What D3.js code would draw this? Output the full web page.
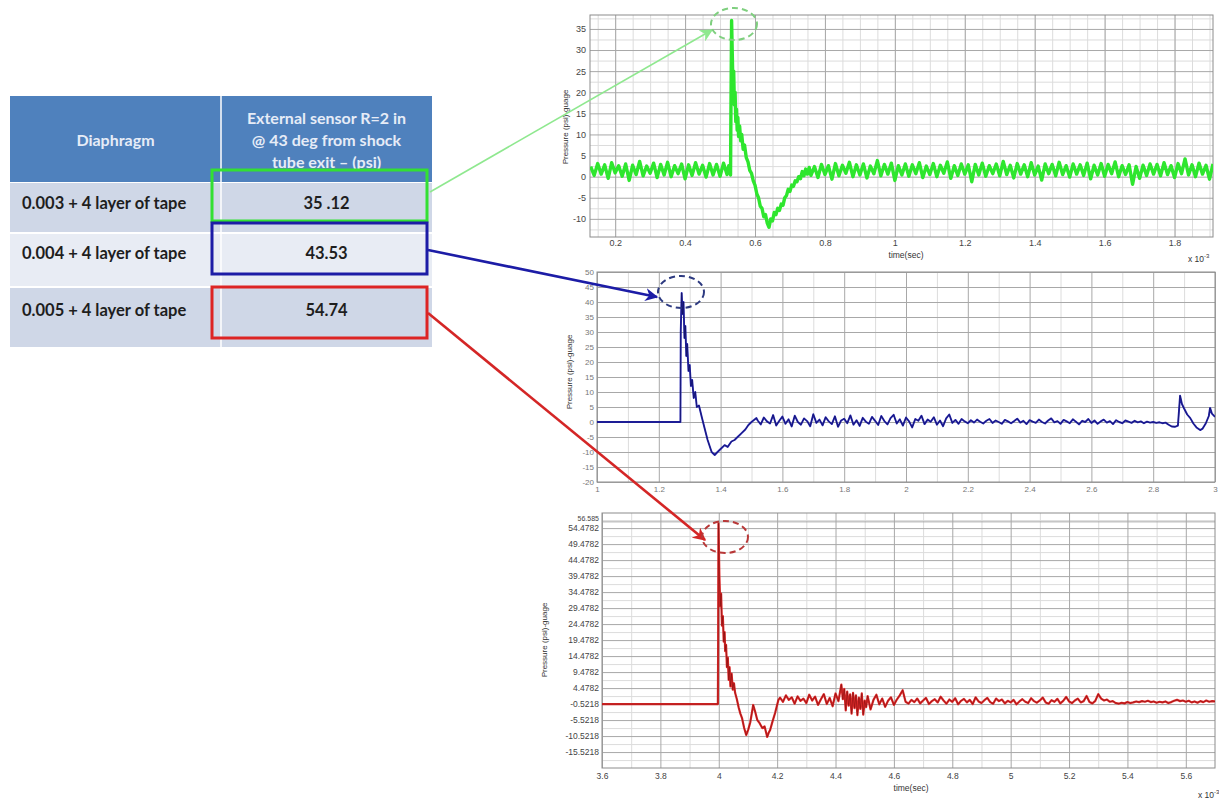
<!DOCTYPE html>
<html>
<head>
<meta charset="utf-8">
<script src="https://cdn.jsdelivr.net/npm/d3@7"></script>
<style>
  body { margin: 0; background: #fff; }
  svg { display: block; font-family: "Liberation Sans", Arial, sans-serif; }
</style>
</head>
<body>
<svg id="fig" width="1219" height="800"></svg>
<script>
// ---- table ----
const diaphragms = ["0.003 + 4 layer of tape", "0.004 + 4 layer of tape", "0.005 + 4 layer of tape"];
const peakPsi = ["35 .12", "43.53", "54.74"];
const headerLines = ["External sensor R=2 in", "@ 43 deg from shock", "tube exit \u2013 (psi)"];
const traceColors = ["#33e033", "#1c1ca6", "#dd2424"];

// ---- traces: [time (x 10^-3 s), pressure (psi)] ----
const greenTrace = [
  [0.13,2.4],[0.14,0.3],[0.15,3.1],[0.16,0.6],[0.17,2.8],[0.18,-0.4],[0.19,3.3],[0.20,0.9],[0.21,2.6],[0.22,0.1],
  [0.23,3.0],[0.24,-0.9],[0.25,2.7],[0.26,0.5],[0.27,3.6],[0.28,0.2],[0.29,2.5],[0.30,0.8],[0.31,3.2],[0.32,-0.2],
  [0.33,2.9],[0.34,0.4],[0.35,3.4],[0.36,0.0],[0.37,2.6],[0.38,0.7],[0.39,3.0],[0.40,-0.5],[0.41,2.8],[0.42,0.3],
  [0.43,3.3],[0.44,0.6],[0.45,2.7],[0.46,-0.1],[0.47,3.1],[0.48,0.4],[0.49,2.9],[0.50,0.1],[0.51,3.2],[0.52,0.5],
  [0.525,2.6],[0.530,0.4],[0.531,14],[0.533,37],[0.535,29],[0.537,21],[0.539,25],[0.541,17],[0.543,20],[0.545,13],
  [0.547,16],[0.549,11],[0.551,14],[0.553,9.5],[0.556,12],[0.559,8.5],[0.562,10],[0.566,6.5],[0.570,7.5],[0.575,4.5],
  [0.580,3.5],[0.585,1.5],[0.590,0.8],[0.595,-1],[0.600,-2],[0.605,-4],[0.610,-5],[0.615,-7],[0.620,-7.5],[0.625,-9.5],
  [0.630,-9],[0.635,-11],[0.640,-12],[0.645,-10],[0.650,-10.5],[0.655,-8.5],[0.660,-9],[0.665,-7.5],[0.670,-8],[0.675,-6.5],
  [0.680,-6.8],[0.685,-5],[0.690,-4.5],[0.695,-3],[0.700,-3.5],[0.705,-2],[0.710,-2.3],[0.715,-1],[0.720,-1.2],[0.725,0],
  [0.730,-0.5],[0.735,1.2],[0.740,0.2],[0.745,1.8],[0.750,0.6],[0.755,2.2],
  [0.76,0.3],[0.77,2.4],[0.78,-0.2],[0.79,2.9],[0.80,0.5],[0.81,2.6],[0.82,-0.6],[0.83,3.1],[0.84,0.2],[0.85,2.7],
  [0.86,0.8],[0.87,3.4],[0.88,0.0],[0.89,2.8],[0.90,0.4],[0.91,3.0],[0.92,-0.3],[0.93,2.5],[0.94,0.7],[0.95,3.8],
  [0.96,0.2],[0.97,2.9],[0.98,0.6],[0.99,3.2],[1.00,-0.9],[1.01,2.6],[1.02,0.4],[1.03,3.0],[1.04,0.1],[1.05,2.8],
  [1.06,0.7],[1.07,3.3],[1.08,-0.2],[1.09,2.5],[1.10,0.5],[1.11,3.1],[1.12,0.0],[1.13,2.7],[1.14,0.8],[1.15,3.5],
  [1.16,-0.4],[1.17,2.6],[1.18,0.3],[1.19,3.0],[1.20,0.6],[1.21,2.8],[1.22,-1.2],[1.23,2.9],[1.24,0.4],[1.25,3.2],
  [1.26,0.1],[1.27,2.6],[1.28,0.7],[1.29,3.0],[1.30,0.2],[1.31,3.6],[1.32,0.5],[1.33,2.7],[1.34,-0.3],[1.35,3.1],
  [1.36,0.6],[1.37,2.8],[1.38,0.0],[1.39,3.3],[1.40,0.4],[1.41,2.5],[1.42,-0.8],[1.43,3.0],[1.44,0.7],[1.45,2.9],
  [1.46,0.2],[1.47,3.4],[1.48,0.5],[1.49,2.6],[1.50,-0.1],[1.51,3.0],[1.52,0.6],[1.53,2.8],[1.54,0.3],[1.55,3.2],
  [1.56,-0.5],[1.57,2.7],[1.58,0.4],[1.59,3.1],[1.60,0.1],[1.61,2.9],[1.62,0.7],[1.63,3.5],[1.64,0.0],[1.65,2.6],
  [1.66,0.5],[1.67,2.8],[1.68,-1.8],[1.69,2.4],[1.70,-0.4],[1.71,2.7],[1.72,0.3],[1.73,3.0],[1.74,0.6],[1.75,2.9],
  [1.76,0.2],[1.77,3.3],[1.78,0.5],[1.79,2.6],[1.80,-0.2],[1.81,3.1],[1.82,0.7],[1.83,4.2],[1.84,0.4],[1.85,2.8],
  [1.86,0.0],[1.87,3.2],[1.88,0.6],[1.89,2.7],[1.90,-0.6],[1.91,3.0]
];

const blueTrace = [
  [1.0,0],[1.270,0],[1.271,30],[1.274,43],[1.277,36],[1.280,40],[1.283,28],[1.286,32],[1.289,22],[1.292,26],
  [1.296,17],[1.300,19],[1.304,12],[1.308,14],[1.313,8],[1.318,10],[1.323,5],[1.330,5.5],[1.339,1.7],[1.348,-2],
  [1.358,-6],[1.371,-10],[1.381,-11],[1.390,-10],[1.400,-9],[1.413,-7.7],[1.423,-8.3],[1.435,-6.5],[1.445,-6],[1.455,-5],
  [1.468,-3.7],[1.480,-2.5],[1.490,-1],[1.500,0],[1.516,1.3],
  [1.52,0.5],[1.53,-0.8],[1.54,1.5],[1.55,0.2],[1.56,-0.5],[1.57,2.3],[1.58,-1.2],[1.59,0.4],[1.60,1.8],[1.61,-0.6],
  [1.62,0.9],[1.63,-1.5],[1.64,2.1],[1.65,0.0],[1.66,-0.9],[1.67,1.2],[1.68,0.3],[1.69,-1.4],[1.70,2.6],[1.71,-0.3],
  [1.72,0.8],[1.73,-1.1],[1.74,1.6],[1.75,0.2],[1.76,-0.7],[1.77,1.9],[1.78,-1.6],[1.79,0.5],[1.80,1.1],[1.81,-0.4],
  [1.82,2.2],[1.83,-0.9],[1.84,0.6],[1.85,-1.3],[1.86,1.4],[1.87,0.1],[1.88,-0.6],[1.89,1.7],[1.90,0.4],[1.91,-1.0],
  [1.92,2.0],[1.93,0.3],[1.94,-0.8],[1.95,1.3],[1.96,2.4],[1.97,-0.5],[1.98,0.9],[1.99,-1.2],[2.00,1.5],[2.01,0.2],
  [2.02,-1.8],[2.03,1.0],[2.04,0.4],[2.05,2.1],[2.06,-0.7],[2.07,0.8],[2.08,0.1],[2.09,1.6],[2.10,-0.9],[2.11,0.5],
  [2.12,-1.4],[2.13,1.2],[2.14,2.5],[2.15,-0.3],[2.16,0.7],[2.17,-0.6],[2.18,1.0],[2.19,0.2],[2.20,-0.4],[2.21,0.6],
  [2.22,-0.2],[2.23,0.8],[2.24,0.1],[2.25,-0.5],[2.26,0.4],[2.27,1.0],[2.28,-0.3],[2.29,0.5],[2.30,0.0],[2.31,-0.6],
  [2.32,0.7],[2.33,0.2],[2.34,-0.4],[2.35,0.3],[2.36,1.1],[2.37,-0.2],[2.38,0.4],[2.39,-0.7],[2.40,0.6],[2.41,0.1],
  [2.42,-0.3],[2.43,0.8],[2.44,0.0],[2.45,-0.5],[2.46,0.5],[2.47,1.2],[2.48,-0.1],[2.49,0.3],[2.50,-0.6],[2.51,0.7],
  [2.52,0.2],[2.53,-0.4],[2.54,0.9],[2.55,0.1],[2.56,-0.8],[2.57,0.4],[2.58,0.0],[2.59,1.0],[2.60,-0.3],[2.61,0.5],
  [2.62,-0.6],[2.63,0.2],[2.64,0.8],[2.65,-0.2],[2.66,0.3],[2.67,-0.7],[2.68,0.6],[2.69,0.0],[2.70,-0.4],[2.71,0.5],
  [2.72,0.1],[2.73,-0.3],[2.74,0.4],[2.75,-0.1],[2.76,0.2],[2.77,-0.4],[2.78,0.1],[2.79,-0.2],[2.80,0.0],[2.81,-0.3],
  [2.82,-0.1],[2.83,-0.4],[2.84,-0.2],[2.85,-0.9],[2.86,-1.5],[2.87,-1.6],[2.88,-1.2],
  [2.887,8.8],[2.893,6],[2.900,4.5],[2.910,2.5],[2.920,1.3],[2.930,-0.5],[2.940,-1.8],[2.952,-2.7],[2.960,-2.2],[2.970,-0.5],
  [2.980,2],[2.984,4.7],[2.990,2.8],[3.0,1.7]
];

const redTrace = [
  [3.6,-0.5218],[3.997,-0.5218],[3.998,20],[3.999,56],[4.002,40],[4.005,30],[4.008,34],[4.011,24],[4.014,27],[4.017,19],
  [4.020,22],[4.022,16],[4.025,18],[4.028,11],[4.031,14],[4.034,7],[4.037,11],[4.040,5],[4.044,9],[4.048,4],
  [4.052,6],[4.056,3],[4.062,1],[4.068,-1.5],[4.074,-3.5],[4.080,-5],[4.087,-8],[4.094,-10.2],[4.101,-8.5],[4.108,-6.2],
  [4.113,-3.5],[4.118,-0.8],[4.125,-3],[4.132,-5.5],[4.140,-6.5],[4.149,-8],[4.157,-7.5],[4.166,-10.8],[4.171,-9.5],[4.176,-8.6],
  [4.184,-6],[4.193,-3.3],[4.204,0.7],
  [4.21,1.5],[4.22,0.2],[4.23,2.2],[4.24,0.8],[4.25,1.6],[4.26,-0.4],[4.27,1.9],[4.28,0.5],[4.29,1.2],[4.30,-0.2],
  [4.31,2.4],[4.32,0.6],[4.33,1.8],[4.34,-0.8],[4.35,1.0],[4.36,2.6],[4.37,-0.5],[4.38,1.4],[4.39,-1.2],[4.40,2.8],
  [4.41,0.4],[4.42,5.6],[4.425,1.0],[4.43,4.2],[4.435,-2.5],[4.44,3.4],[4.445,-1.0],[4.45,2.5],[4.455,-3.5],[4.46,3.0],
  [4.465,-1.8],[4.47,2.2],[4.475,-4.0],[4.48,1.5],[4.485,-2.0],[4.49,2.8],[4.495,-3.8],[4.50,0.6],[4.505,-1.5],[4.51,2.0],
  [4.52,-2.2],[4.53,0.8],[4.54,2.4],[4.55,-0.6],[4.56,1.2],[4.57,-1.4],[4.58,0.5],[4.59,1.6],[4.60,-0.8],[4.61,0.9],
  [4.62,2.2],[4.63,3.8],[4.64,0.2],[4.65,-0.4],[4.66,0.8],[4.67,0.1],[4.68,1.2],[4.69,-0.3],[4.70,0.6],[4.71,1.4],
  [4.72,-0.5],[4.73,0.4],[4.74,1.0],[4.75,0.0],[4.76,1.8],[4.77,0.6],[4.78,-0.4],[4.79,0.9],[4.80,0.2],[4.81,1.3],
  [4.82,-0.6],[4.83,0.5],[4.84,1.1],[4.85,0.0],[4.86,0.8],[4.87,-0.5],[4.88,1.6],[4.89,0.3],[4.90,-0.2],[4.91,0.7],
  [4.92,1.4],[4.93,0.1],[4.94,-0.4],[4.95,1.2],[4.96,0.4],[4.97,0.9],[4.98,-0.3],[4.99,0.5],[5.00,0.0],[5.01,0.8],
  [5.02,-0.6],[5.03,0.3],[5.04,1.0],[5.05,0.2],[5.06,-0.2],[5.07,1.3],[5.08,0.4],[5.09,-0.1],[5.10,0.6],[5.11,1.5],
  [5.12,0.0],[5.13,-0.4],[5.14,0.7],[5.15,0.2],[5.16,1.1],[5.17,-0.3],[5.18,0.5],[5.19,1.7],[5.20,0.3],[5.21,-0.2],
  [5.22,0.6],[5.23,1.2],[5.24,0.0],[5.25,0.4],[5.26,2.0],[5.27,0.1],[5.28,-0.3],[5.29,0.5],[5.30,2.6],[5.31,1.2],
  [5.32,0.6],[5.33,0.9],[5.34,0.2],[5.35,0.4],[5.36,-0.2],[5.37,-0.4],[5.38,-0.1],[5.39,-0.3],[5.40,0.1],[5.41,-0.2],
  [5.42,0.0],[5.43,0.3],[5.44,0.1],[5.45,0.4],[5.46,0.2],[5.47,0.5],[5.48,0.1],[5.49,0.3],[5.50,-0.1],[5.51,0.2],
  [5.52,0.0],[5.53,0.3],[5.54,-0.2],[5.55,0.1],[5.56,0.5],[5.57,0.8],[5.58,0.4],[5.59,0.6],[5.60,0.2],[5.61,0.5],
  [5.62,0.0],[5.63,0.3],[5.64,-0.1],[5.65,0.4],[5.66,0.1],[5.67,0.6],[5.68,0.2],[5.69,0.4],[5.70,0.3]
];

// ---- axis ticks ----
const greenXTicks = [0.2, 0.4, 0.6, 0.8, 1, 1.2, 1.4, 1.6, 1.8];
const greenYTicks = [-10, -5, 0, 5, 10, 15, 20, 25, 30, 35];
const blueXTicks = [1, 1.2, 1.4, 1.6, 1.8, 2, 2.2, 2.4, 2.6, 2.8, 3];
const blueYTicks = [-20, -15, -10, -5, 0, 5, 10, 15, 20, 25, 30, 35, 40, 45, 50];
const redXTicks = [3.6, 3.8, 4, 4.2, 4.4, 4.6, 4.8, 5, 5.2, 5.4, 5.6];
const redYTicks = [-15.5218, -10.5218, -5.5218, -0.5218, 4.4782, 9.4782, 14.4782, 19.4782, 24.4782,
  29.4782, 34.4782, 39.4782, 44.4782, 49.4782, 54.4782, 56.585];

const svg = d3.select("#fig");
const defs = svg.append("defs");

// ---- table ----
const tbl = { left: 10, mid: 221, right: 432, headTop: 96, headBottom: 182 };
const rowBands = [[183, 232], [234, 286], [288, 347]];
const rowTextY = [209, 259, 316];
const rowFills = ["#cfd7e7", "#e8ecf4", "#cfd7e7"];

svg.append("rect")
  .attr("x", tbl.left).attr("y", tbl.headTop)
  .attr("width", tbl.right - tbl.left).attr("height", tbl.headBottom - tbl.headTop)
  .attr("fill", "#4f81bd");

svg.selectAll(".rowband")
  .data(rowBands)
  .join("rect")
  .attr("x", tbl.left).attr("y", d => d[0])
  .attr("width", tbl.right - tbl.left).attr("height", d => d[1] - d[0])
  .attr("fill", (d, i) => rowFills[i]);

svg.append("line")
  .attr("x1", tbl.mid).attr("x2", tbl.mid)
  .attr("y1", tbl.headTop).attr("y2", 347)
  .attr("stroke", "#fff").attr("stroke-width", 1.5);

const tableFont = "Lato, 'Open Sans', sans-serif";

svg.append("text")
  .attr("x", (tbl.left + tbl.mid) / 2).attr("y", 146)
  .attr("text-anchor", "middle")
  .attr("font-family", tableFont).attr("font-weight", 700).attr("font-size", 16)
  .attr("fill", "#e6ecf7")
  .text("Diaphragm");

svg.selectAll(".head2")
  .data(headerLines)
  .join("text")
  .attr("x", (tbl.mid + tbl.right) / 2)
  .attr("y", (d, i) => 124 + i * 22)
  .attr("text-anchor", "middle")
  .attr("font-family", tableFont).attr("font-weight", 700).attr("font-size", 16)
  .attr("fill", "#e6ecf7")
  .text(d => d);

svg.selectAll(".diaph")
  .data(diaphragms)
  .join("text")
  .attr("x", 22)
  .attr("y", (d, i) => rowTextY[i])
  .attr("font-family", tableFont).attr("font-weight", 700).attr("font-size", 16.5)
  .attr("fill", "#1e1e1e")
  .text(d => d);

svg.selectAll(".peak")
  .data(peakPsi)
  .join("text")
  .attr("x", (tbl.mid + tbl.right) / 2)
  .attr("y", (d, i) => rowTextY[i])
  .attr("text-anchor", "middle")
  .attr("font-family", tableFont).attr("font-weight", 700).attr("font-size", 16.5)
  .attr("fill", "#1e1e1e")
  .text(d => d);

// ---- the three scope plots ----
function drawScope(cfg) {
  const x = d3.scaleLinear().domain(cfg.xDomain).range([cfg.left, cfg.right]);
  const y = d3.scaleLinear().domain(cfg.yDomain).range([cfg.bottom, cfg.top]);
  const w = cfg.right - cfg.left, h = cfg.bottom - cfg.top;
  const g = svg.append("g");

  g.append("rect")
    .attr("x", cfg.left).attr("y", cfg.top).attr("width", w).attr("height", h)
    .attr("fill", "#fff");

  // minor grid
  if (cfg.xMinor) {
    g.append("g")
      .attr("transform", `translate(0,${cfg.bottom})`)
      .call(d3.axisBottom(x).tickValues(cfg.xMinor).tickSize(-h).tickFormat(""))
      .call(a => a.select(".domain").remove())
      .call(a => a.selectAll("line").attr("stroke", "#dcdcdc"));
  }
  if (cfg.yMinor) {
    g.append("g")
      .attr("transform", `translate(${cfg.left},0)`)
      .call(d3.axisLeft(y).tickValues(cfg.yMinor).tickSize(-w).tickFormat(""))
      .call(a => a.select(".domain").remove())
      .call(a => a.selectAll("line").attr("stroke", "#dcdcdc"));
  }

  // major grid + labels
  const xa = g.append("g")
    .attr("transform", `translate(0,${cfg.bottom})`)
    .call(d3.axisBottom(x).tickValues(cfg.xTicks).tickSize(-h).tickPadding(cfg.xPad).tickFormat(d => String(d)));
  xa.select(".domain").remove();
  xa.selectAll("line").attr("stroke", "#a8a8a8");
  xa.selectAll("text").attr("font-size", cfg.fontSize).attr("fill", cfg.labelColor);

  const ya = g.append("g")
    .attr("transform", `translate(${cfg.left},0)`)
    .call(d3.axisLeft(y).tickValues(cfg.yTicks).tickSize(-w).tickPadding(cfg.yPad).tickFormat(d => String(d)));
  ya.select(".domain").remove();
  ya.selectAll("line").attr("stroke", "#a8a8a8");
  ya.selectAll("text").attr("font-size", cfg.fontSize).attr("fill", cfg.labelColor);
  if (cfg.topLabel != null) {
    // the odd top label sits squeezed above its neighbour
    ya.selectAll("text").filter(d => d === cfg.topLabel)
      .attr("dy", "-0.15em").attr("font-size", cfg.fontSize - 1.5);
  }

  g.append("rect")
    .attr("x", cfg.left).attr("y", cfg.top).attr("width", w).attr("height", h)
    .attr("fill", "none").attr("stroke", "#8c8c8c");

  const clipId = "clip" + cfg.name;
  defs.append("clipPath").attr("id", clipId)
    .append("rect").attr("x", cfg.left).attr("y", cfg.top).attr("width", w).attr("height", h);

  const line = d3.line().x(d => x(d[0])).y(d => y(d[1]));
  g.append("path")
    .datum(cfg.data)
    .attr("clip-path", `url(#${clipId})`)
    .attr("d", line)
    .attr("fill", "none")
    .attr("stroke", cfg.color)
    .attr("stroke-width", cfg.width)
    .attr("stroke-linejoin", "round");
  if (cfg.core) {
    g.append("path")
      .datum(cfg.data)
      .attr("clip-path", `url(#${clipId})`)
      .attr("d", line)
      .attr("fill", "none")
      .attr("stroke", cfg.core)
      .attr("stroke-width", 0.8)
      .attr("opacity", 0.7);
  }

  g.append("text")
    .attr("transform", `translate(${cfg.yLabelX},${cfg.yLabelY}) rotate(-90)`)
    .attr("text-anchor", "middle")
    .attr("font-size", 8).attr("fill", "#333")
    .text("Pressure (psi)-guage");

  if (cfg.timeLabel) {
    g.append("text")
      .attr("x", cfg.timeLabel[0]).attr("y", cfg.timeLabel[1])
      .attr("text-anchor", "middle")
      .attr("font-size", 8.5).attr("fill", "#333")
      .text("time(sec)");
  }
  if (cfg.expLabel) {
    const t = g.append("text")
      .attr("x", cfg.expLabel[0]).attr("y", cfg.expLabel[1])
      .attr("font-size", 8.5).attr("fill", "#333");
    t.append("tspan").text("x 10");
    t.append("tspan").attr("dy", -4).attr("font-size", 6).text("-3");
  }
  return { x, y };
}

const greenScope = drawScope({
  name: "g", left: 590, right: 1213, top: 15, bottom: 237,
  xDomain: [0.128, 1.91], yDomain: [-14.3, 38.3],
  xTicks: greenXTicks, yTicks: greenYTicks,
  xMinor: d3.range(0.15, 1.91, 0.05), yMinor: d3.range(-12.5, 38, 5),
  data: greenTrace, color: "#2ee62e", width: 3.4,
  fontSize: 9, labelColor: "#444", xPad: 3, yPad: 4,
  yLabelX: 568, yLabelY: 127, timeLabel: [906, 258], expLabel: [1188, 262]
});

const blueScope = drawScope({
  name: "b", left: 597, right: 1215, top: 272, bottom: 482,
  xDomain: [1, 3], yDomain: [-20, 50],
  xTicks: blueXTicks, yTicks: blueYTicks,
  xMinor: d3.range(1.1, 3, 0.2), yMinor: null,
  data: blueTrace, color: "#2323b0", width: 1.9, core: "#101050",
  fontSize: 8, labelColor: "#777", xPad: 4, yPad: 3,
  yLabelX: 572, yLabelY: 372, timeLabel: null, expLabel: null
});

const redScope = drawScope({
  name: "r", left: 602, right: 1215, top: 513, bottom: 768,
  xDomain: [3.6, 5.7], yDomain: [-20.5, 59.2],
  xTicks: redXTicks, yTicks: redYTicks, topLabel: 56.585,
  xMinor: d3.range(3.7, 5.7, 0.2), yMinor: d3.range(-18.0218, 58, 5),
  data: redTrace, color: "#e02a2a", width: 2.2, core: "#7a0c0c",
  fontSize: 8.5, labelColor: "#444", xPad: 5, yPad: 3,
  yLabelX: 547, yLabelY: 640, timeLabel: [911, 791], expLabel: [1198, 798]
});

// ---- highlight boxes around the values ----
const boxTops = [170, 223, 287];
svg.selectAll(".hbox")
  .data(boxTops)
  .join("rect")
  .attr("x", 212).attr("y", d => d)
  .attr("width", 215).attr("height", 51)
  .attr("fill", "none")
  .attr("stroke", (d, i) => traceColors[i])
  .attr("stroke-width", 3);

// ---- arrows from boxes to peaks ----
const arrowColors = ["#8fe88f", "#1c1ca6", "#d42626"];
arrowColors.forEach((c, i) => {
  defs.append("marker")
    .attr("id", "ah" + i)
    .attr("viewBox", "0 0 10 10").attr("refX", 9).attr("refY", 5)
    .attr("markerUnits", "userSpaceOnUse")
    .attr("markerWidth", 13).attr("markerHeight", 13)
    .attr("orient", "auto")
    .append("path").attr("d", "M0,0 L10,5 L0,10 L3,5 Z").attr("fill", c);
});

const peaks = [
  { ell: [734, 24], from: [430, 192], to: [712, 30] },
  { ell: [681, 292], from: [428, 250], to: [657, 297] },
  { ell: [725, 537], from: [428, 313], to: [705, 540] }
];

svg.selectAll(".arrow")
  .data(peaks)
  .join("line")
  .attr("x1", d => d.from[0]).attr("y1", d => d.from[1])
  .attr("x2", d => d.to[0]).attr("y2", d => d.to[1])
  .attr("stroke", (d, i) => arrowColors[i])
  .attr("stroke-width", (d, i) => i == 0 ? 1.6 : 2.6)
  .attr("marker-end", (d, i) => `url(#ah${i})`);

// ---- dashed rings around the peaks ----
const ringColors = ["#7fcf7f", "#2d3a80", "#b83838"];
svg.selectAll(".ring")
  .data(peaks)
  .join("ellipse")
  .attr("cx", d => d.ell[0]).attr("cy", d => d.ell[1])
  .attr("rx", 23).attr("ry", 16)
  .attr("fill", "none")
  .attr("stroke", (d, i) => ringColors[i])
  .attr("stroke-width", 2)
  .attr("stroke-dasharray", "6,4");
</script>
</body>
</html>
